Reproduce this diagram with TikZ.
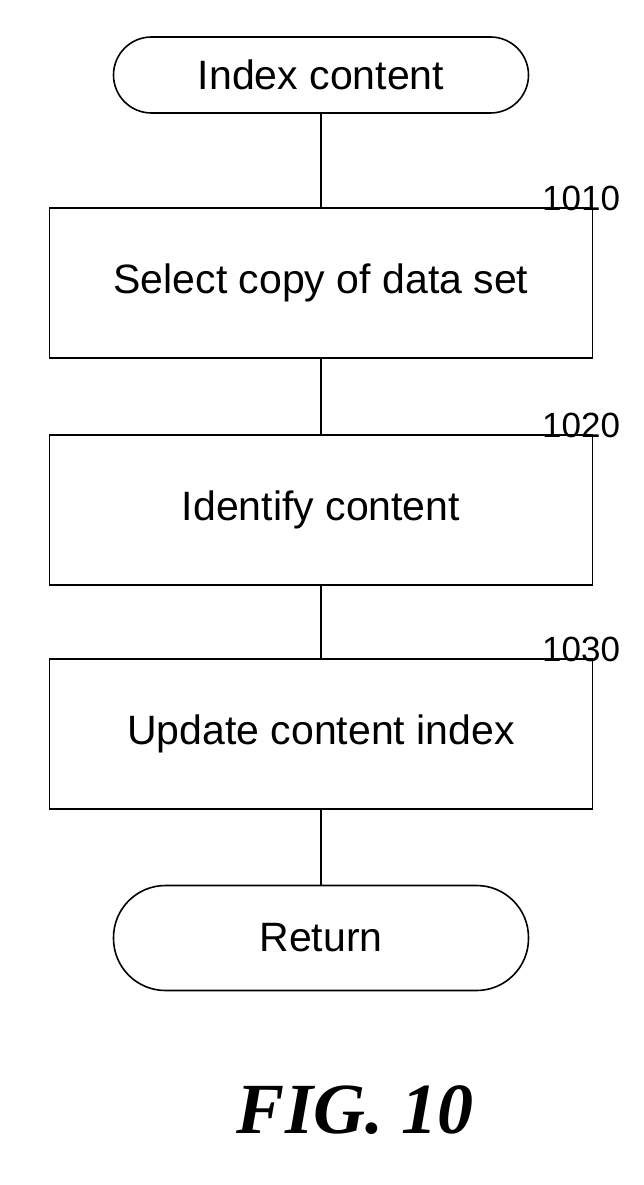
\documentclass[tikz,border=0pt]{standalone}
\usepackage{fontspec}
\setmainfont{Liberation Sans}
\newfontfamily\figfont{Liberation Serif}
\begin{document}
\begin{tikzpicture}[x=1pt,y=-1pt,
  box/.style={draw,line width=1.6pt,minimum width=543pt,minimum height=150pt,inner sep=0pt,font=\fontsize{41}{48}\selectfont},
  term/.style={draw,line width=1.6pt,rounded corners=38pt,minimum width=415pt,minimum height=76pt,inner sep=0pt,font=\fontsize{41}{48}\selectfont},
  lab/.style={font=\fontsize{35}{40}\selectfont,anchor=south east,inner sep=0pt},
  conn/.style={line width=1.6pt}]
\useasboundingbox (0,0) rectangle (644,1185);
\node[term] (s) at (321,75) {Index content};
\node[box] (b1) at (321,283) {Select copy of data set};
\node[box] (b2) at (321,510) {Identify content};
\node[box] (b3) at (321,734) {Update content index};
\node[term,minimum height=105pt,rounded corners=52pt] (r) at (321,938) {Return};
\node[lab] at (b1.north east) [xshift=27pt,yshift=-4pt] {1010};
\node[lab] at (b2.north east) [xshift=27pt,yshift=-4pt] {1020};
\node[lab] at (b3.north east) [xshift=27pt,yshift=-4pt] {1030};
\draw[conn] (s) -- (b1);
\draw[conn] (b1) -- (b2);
\draw[conn] (b2) -- (b3);
\draw[conn] (b3) -- (r);
\node[font=\figfont\fontsize{72}{80}\selectfont\bfseries\itshape] (f) at (355,1110) {FIG. 10};
\end{tikzpicture}
\end{document}
